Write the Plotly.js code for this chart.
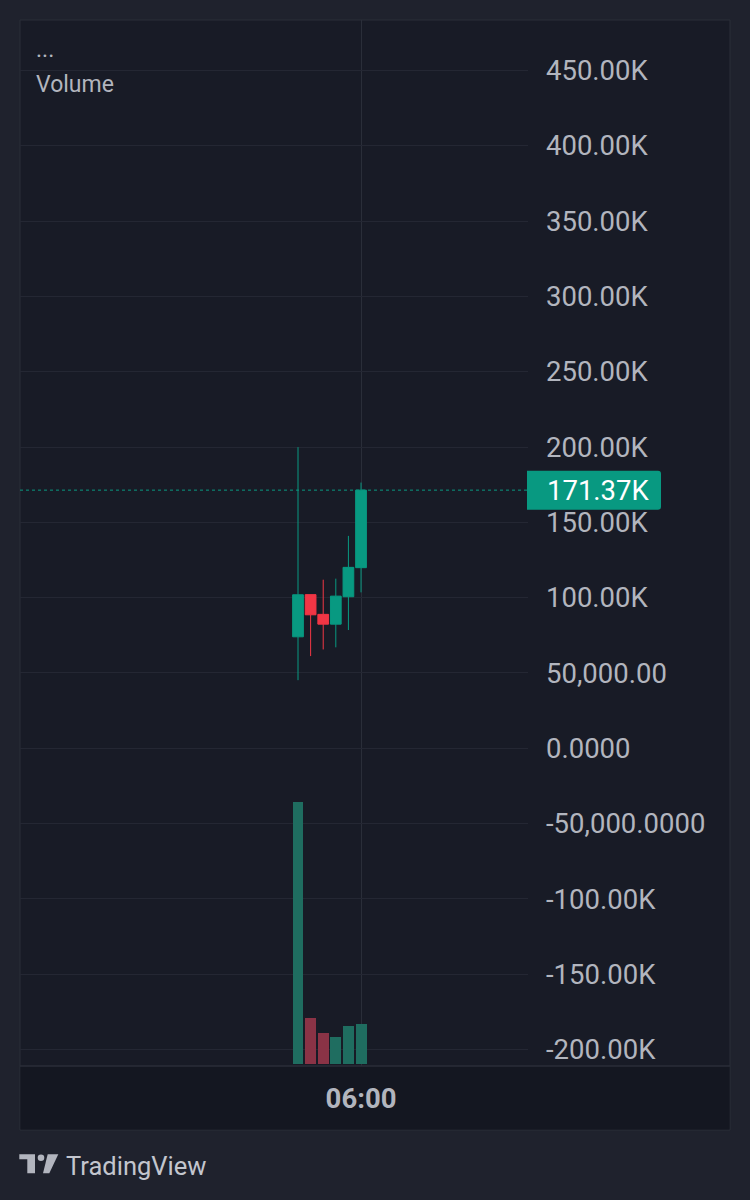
<!DOCTYPE html>
<html><head><meta charset="utf-8">
<script src="https://cdn.plot.ly/plotly-3.0.1.min.js"></script>
<style>html,body{margin:0;padding:0;background:#1f222d;}</style>
</head><body><div id="chart" style="width:750px;height:1200px;"></div>
<script>
// ---- data ----
const times = ['2024-05-14 01:00:00','2024-05-14 02:00:00','2024-05-14 03:00:00','2024-05-14 04:00:00','2024-05-14 05:00:00','2024-05-14 06:00:00'];
const openVals  = [74000, 102000, 88900, 82400, 100600, 119900];
const highVals  = [199900, 102000, 111900, 112600, 141000, 176400];
const lowVals   = [45200, 61200, 65600, 67000, 78500, 103500];
const closeVals = [101900, 88600, 82400, 101000, 120100, 171370];
const volumeVals = [1300, 228, 153, 133, 187, 198];
const priceTickVals = [450000,400000,350000,300000,250000,200000,150000,100000,50000,0,-50000,-100000,-150000,-200000];
const priceTickText = ['450.00K','400.00K','350.00K','300.00K','250.00K','200.00K','150.00K','100.00K','50,000.00','0.0000','-50,000.0000','-100.00K','-150.00K','-200.00K'];
const timeTickLabels = ['06:00'];
const lastPriceLabel = '171.37K';
const legendLines = ['...', 'Volume'];
const brandName = 'TradingView';

// ---- geometry helpers (pixel -> paper) ----
const L = 20, T = 20, W = 508, H = 1046;
const px = x => (x - L) / W;
const py = y => (T + H - y) / H;

const toMs = s => Date.parse(s.replace(' ', 'T') + 'Z');
const fmt = ms => new Date(ms).toISOString().replace('T', ' ').slice(0, 19);
const step = toMs(times[1]) - toMs(times[0]);
const t0 = toMs(times[0]);
const xRange = [fmt(t0 - 22.06 * step), fmt(t0 + 18.25 * step)];

const GREEN = '#089981', RED = '#f23645';
const volColors = closeVals.map((c, i) => c >= openVals[i] ? '#1f6d60' : '#8a3346');

const traces = [
  {
    type: 'bar', x: times, y: volumeVals, yaxis: 'y2',
    marker: {color: volColors, line: {width: 0}},
    width: 0.87 * step, hoverinfo: 'skip'
  },
  {
    type: 'candlestick', x: times, open: openVals, high: highVals, low: lowVals, close: closeVals,
    increasing: {line: {color: GREEN, width: 1}, fillcolor: GREEN},
    decreasing: {line: {color: RED, width: 1}, fillcolor: RED},
    whiskerwidth: 0, hoverinfo: 'skip'
  }
];

const lastClose = closeVals[closeVals.length - 1];
const logoColor = '#b2b5be';

const shapes = [
  // panel
  {type:'rect', xref:'paper', yref:'paper', x0:px(20), x1:px(730), y0:py(1130), y1:py(20), fillcolor:'#181b26', line:{color:'#2a2e39', width:1}, layer:'below'},
  // time axis strip
  {type:'rect', xref:'paper', yref:'paper', x0:px(20.5), x1:px(729.5), y0:py(1129.5), y1:py(1066), fillcolor:'#141721', line:{width:0}, layer:'below'},
  {type:'line', xref:'paper', yref:'paper', x0:px(20), x1:px(730), y0:py(1066), y1:py(1066), line:{color:'#2a2e39', width:1.5}, layer:'below'},
  // last price dotted line
  {type:'line', xref:'paper', yref:'y', x0:0, x1:1, y0:lastClose, y1:lastClose, line:{color:GREEN, width:1, dash:'dot'}},
  // last price box
  {type:'path', xref:'paper', yref:'y', xsizemode:'pixel', ysizemode:'pixel', xanchor:1, yanchor:lastClose,
   path:'M -1,-19.5 L 130,-19.5 Q 133,-19.5 133,-16.5 L 133,16.5 Q 133,19.5 130,19.5 L -1,19.5 Z',
   fillcolor:GREEN, line:{width:0}},
  // logo pieces
  {type:'path', xref:'paper', yref:'paper',
   path:`M ${px(19.3)},${py(1154.3)} L ${px(35)},${py(1154.3)} L ${px(35)},${py(1173.3)} L ${px(27.3)},${py(1173.3)} L ${px(27.3)},${py(1159.3)} L ${px(19.3)},${py(1159.3)} Z`,
   fillcolor:logoColor, line:{width:0}},
  {type:'circle', xref:'paper', yref:'paper', x0:px(37.7), x1:px(44.3), y0:py(1161), y1:py(1154.4), fillcolor:logoColor, line:{width:0}},
  {type:'path', xref:'paper', yref:'paper',
   path:`M ${px(47.7)},${py(1154.3)} L ${px(58.3)},${py(1154.3)} L ${px(49.3)},${py(1173.3)} L ${px(43)},${py(1173.3)} Z`,
   fillcolor:logoColor, line:{width:0}}
];

const annotations = [
  {xref:'paper', yref:'paper', x:px(34), y:py(50), xanchor:'left', yanchor:'middle', text:legendLines[0], showarrow:false, font:{family:'Roboto', size:23, color:'#b2b5be'}},
  {xref:'paper', yref:'paper', x:px(34), y:py(84), xanchor:'left', yanchor:'middle', text:legendLines[1], showarrow:false, font:{family:'Roboto', size:23, color:'#b2b5be'}},
  {xref:'paper', yref:'y', x:1, y:lastClose, xanchor:'left', yanchor:'middle', xshift:17, text:lastPriceLabel, showarrow:false, font:{family:'Roboto', size:27.5, color:'#ffffff'}},
  {xref:'paper', yref:'paper', x:px(64), y:py(1166), xanchor:'left', yanchor:'middle', text:brandName, showarrow:false, font:{family:'Roboto', size:25.5, color:'#c3c6ce'}}
];

const layout = {
  width: 750, height: 1200,
  margin: {l: L, r: 750 - L - W, t: T, b: 1200 - T - H, pad: 0},
  paper_bgcolor: '#1f222d', plot_bgcolor: '#181b26',
  showlegend: false, boxgap: 0.15, boxgroupgap: 0, bargap: 0,
  xaxis: {
    type: 'date', range: xRange, rangeslider: {visible: false},
    tickvals: [times[times.length - 1]], ticktext: timeTickLabels,
    showgrid: true, gridcolor: '#2a2e39', gridwidth: 1, zeroline: false, showline: false, ticks: '',
    ticklabelstandoff: 13,
    tickfont: {family: 'Roboto', size: 27.5, color: '#b2b5be', weight: 'bold'}
  },
  yaxis: {
    side: 'right', range: [-210950, 483500],
    tickvals: priceTickVals, ticktext: priceTickText,
    showgrid: true, gridcolor: '#242733', gridwidth: 1, zeroline: false, showline: false, ticks: '',
    ticklabelstandoff: 17,
    tickfont: {family: 'Roboto', size: 27.5, color: '#b2b5be'}
  },
  yaxis2: {
    overlaying: 'y', side: 'right', range: [-9.9, 5186], visible: false, showgrid: false, zeroline: false
  },
  shapes: shapes,
  annotations: annotations
};

Plotly.newPlot('chart', traces, layout, {staticPlot: true, displayModeBar: false});
</script></body></html>
